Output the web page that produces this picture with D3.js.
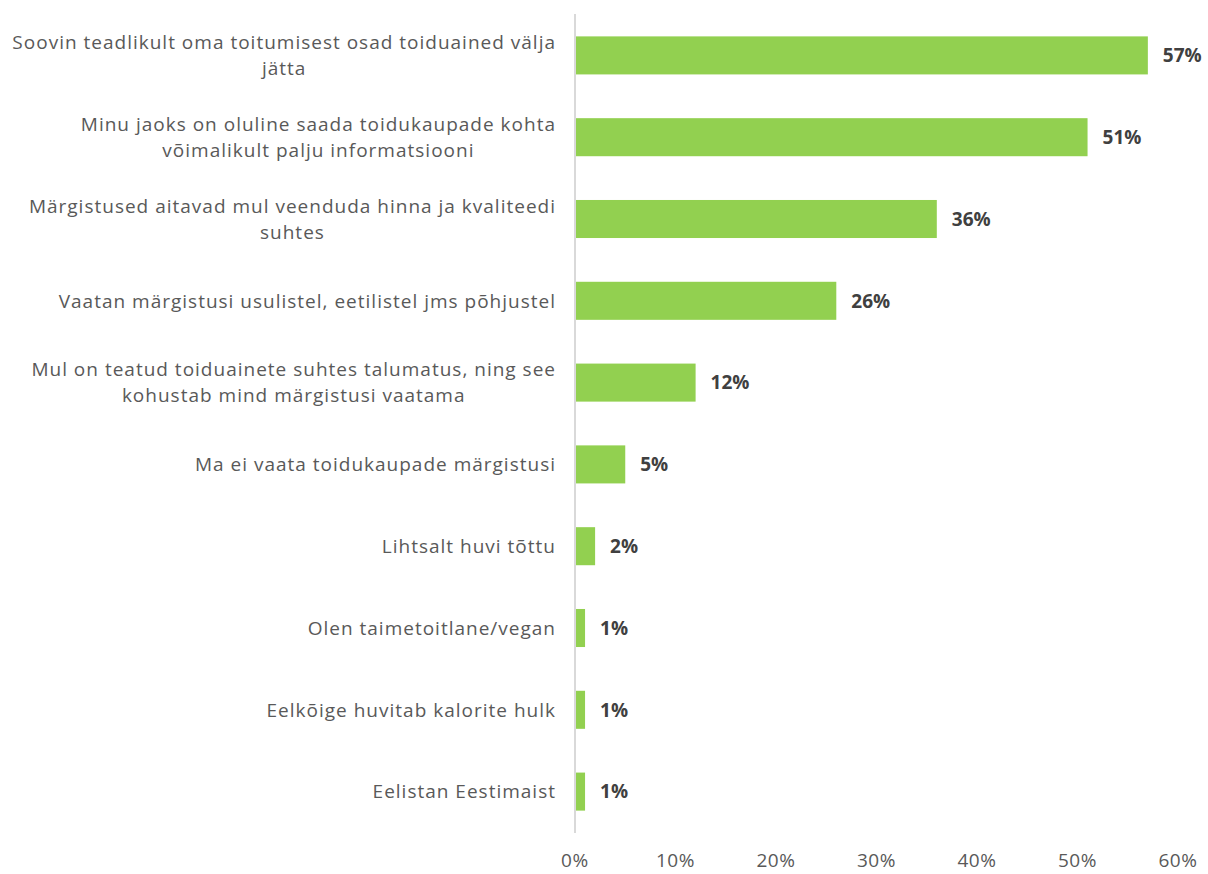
<!DOCTYPE html>
<html><head><meta charset="utf-8">
<script src="https://cdn.jsdelivr.net/npm/d3@7"></script>
<style>body{margin:0;background:#fff}svg{display:block}</style>
</head><body>
<svg id="c" width="1208" height="874"></svg>
<script>
const categories = [
  ["Soovin teadlikult oma toitumisest osad toiduained välja", "jätta"],
  ["Minu jaoks on oluline saada toidukaupade kohta", "võimalikult palju informatsiooni"],
  ["Märgistused aitavad mul veenduda hinna ja kvaliteedi", "suhtes"],
  ["Vaatan märgistusi usulistel, eetilistel jms põhjustel"],
  ["Mul on teatud toiduainete suhtes talumatus, ning see", "kohustab mind märgistusi vaatama"],
  ["Ma ei vaata toidukaupade märgistusi"],
  ["Lihtsalt huvi tõttu"],
  ["Olen taimetoitlane/vegan"],
  ["Eelkõige huvitab kalorite hulk"],
  ["Eelistan Eestimaist"]
];
const values = [57, 51, 36, 26, 12, 5, 2, 1, 1, 1];
const ticks = [0, 10, 20, 30, 40, 50, 60];

const svg = d3.select("#c");
const font = "'Open Sans', sans-serif";
const x = d3.scaleLinear().domain([0, 60]).range([575, 1178]);
const y = d3.scaleBand().domain(d3.range(categories.length)).range([14.5, 832.5]).paddingInner(0.535).paddingOuter(0.2675);

svg.append("line").attr("x1", x(0)).attr("x2", x(0)).attr("y1", 14).attr("y2", 833)
  .attr("stroke", "#d9d9d9").attr("stroke-width", 2);

svg.selectAll("rect.bar").data(values).join("rect")
  .attr("x", x(0) + 1).attr("y", (d, i) => y(i))
  .attr("width", d => x(d) - x(0) - 1).attr("height", y.bandwidth())
  .attr("fill", "#92d050");

svg.selectAll("text.val").data(values).join("text")
  .attr("x", d => x(d) + 15).attr("y", (d, i) => y(i) + y.bandwidth() / 2)
  .attr("dy", "0.36em").attr("font-family", font).attr("font-weight", "bold")
  .attr("font-size", 19).attr("fill", "#404040").text(d => d + "%");

const rightEdge = 556, lh = 26;
categories.forEach((lines, i) => {
  const cy = y(i) + y.bandwidth() / 2;
  const g = svg.append("g");
  const ts = lines.map((l, k) => g.append("text")
    .attr("font-family", font).attr("font-size", 19).attr("fill", "#595959")
    .attr("letter-spacing", 1)
    .attr("text-anchor", "middle")
    .attr("y", cy + (k - (lines.length - 1) / 2) * lh).attr("dy", "0.36em").text(l));
  const maxW = d3.max(ts, t => t.node().getComputedTextLength());
  ts.forEach(t => t.attr("x", rightEdge - maxW / 2));
});

svg.selectAll("text.tick").data(ticks).join("text")
  .attr("x", d => x(d)).attr("y", 860).attr("dy", "0.36em")
  .attr("text-anchor", "middle").attr("font-family", font).attr("font-size", 19)
  .attr("letter-spacing", 0.6)
  .attr("fill", "#595959").text(d => d + "%");
</script>
</body></html>
